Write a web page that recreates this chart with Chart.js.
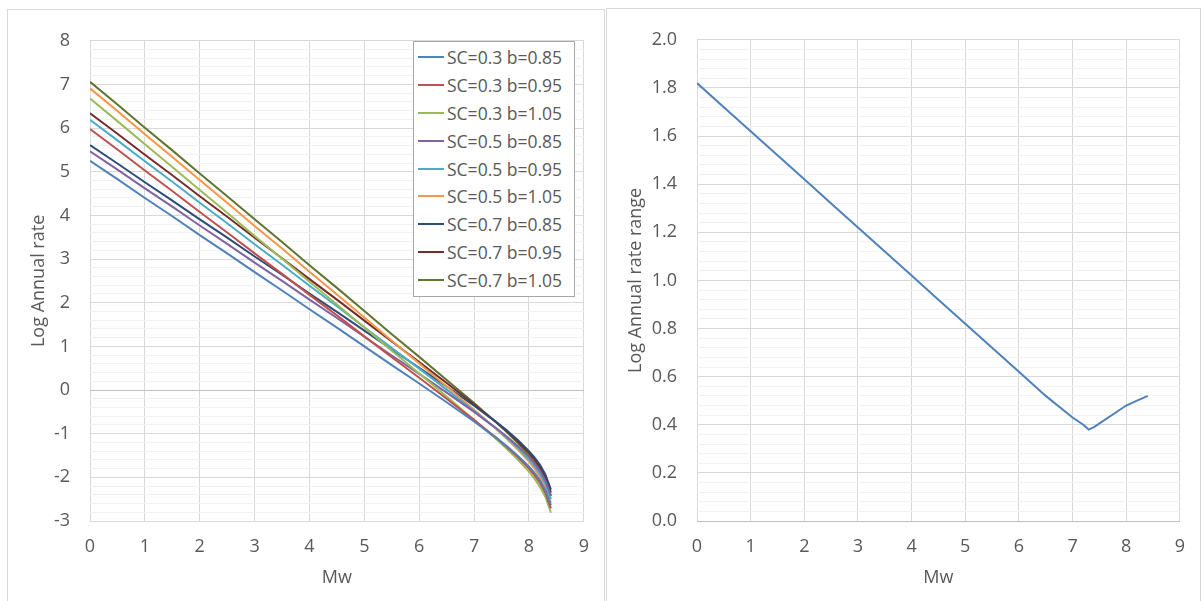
<!DOCTYPE html>
<html>
<head>
<meta charset="utf-8">
<title>Log annual rate vs Mw</title>
<script src="https://cdn.jsdelivr.net/npm/chart.js@4.4.1/dist/chart.umd.min.js"></script>
<style>
  html, body { margin: 0; padding: 0; background: #fff; }
  body {
    width: 1202px; height: 601px; position: relative; overflow: hidden;
    font-family: "Open Sans", sans-serif; color: #595959;
  }
  .panel {
    position: absolute; box-sizing: border-box;
    border: 1px solid #d9d9d9; border-bottom: none;
  }
  #left-panel { left: 7px; top: 9px; width: 598px; height: 592px; }
  #right-panel { left: 606px; top: 8px; width: 595px; height: 593px; }
  .panel canvas { position: absolute; left: 0; top: 0; }
  #legend {
    position: absolute; left: 405px; top: 31px; width: 162px; height: 256px;
    box-sizing: border-box; border: 1px solid #a6a6a6; background: #fff;
    padding: 1px 0 0 4px; font-size: 17.5px;
  }
  #legend .row { height: 27.9px; display: flex; align-items: center; white-space: nowrap; }
  #legend .swatch { width: 26px; height: 2px; margin-right: 3px; flex: none; }
</style>
</head>
<body>
<div class="panel" id="left-panel">
  <canvas id="rateChart" width="596" height="591"></canvas>
  <div id="legend"></div>
</div>
<div class="panel" id="right-panel">
  <canvas id="rangeChart" width="593" height="592"></canvas>
</div>
<script>
// magnitude steps shared by every curve
const mw = [0, 0.5, 1, 1.5, 2, 2.5, 3, 3.5, 4, 4.5, 5, 5.5, 6, 6.5, 7,
  7.2, 7.3, 7.4, 7.6, 7.8, 8, 8.1, 8.2, 8.3, 8.4];

// log annual rate per source scenario
const sc03b085 = [5.25, 4.83, 4.40, 3.98, 3.55, 3.13, 2.70, 2.28, 1.85, 1.43, 1.00, 0.57, 0.15, -0.28, -0.72,
  -0.91, -1.00, -1.09, -1.29, -1.51, -1.75, -1.90, -2.07, -2.30, -2.64];
const sc03b095 = [5.98, 5.51, 5.03, 4.56, 4.08, 3.61, 3.13, 2.66, 2.18, 1.71, 1.23, 0.75, 0.28, -0.20, -0.69,
  -0.89, -0.99, -1.09, -1.31, -1.54, -1.80, -1.95, -2.13, -2.36, -2.71];
const sc03b105 = [6.68, 6.16, 5.63, 5.11, 4.58, 4.06, 3.53, 3.01, 2.48, 1.96, 1.43, 0.90, 0.38, -0.15, -0.68,
  -0.90, -1.01, -1.12, -1.35, -1.60, -1.87, -2.03, -2.22, -2.45, -2.81];
const sc05b085 = [5.47, 5.05, 4.62, 4.20, 3.77, 3.35, 2.92, 2.50, 2.07, 1.65, 1.22, 0.79, 0.37, -0.06, -0.50,
  -0.69, -0.78, -0.87, -1.07, -1.29, -1.53, -1.68, -1.85, -2.08, -2.42];
const sc05b095 = [6.19, 5.72, 5.24, 4.77, 4.29, 3.82, 3.34, 2.87, 2.39, 1.92, 1.44, 0.96, 0.49, 0.01, -0.48,
  -0.68, -0.78, -0.88, -1.10, -1.33, -1.59, -1.74, -1.92, -2.15, -2.50];
const sc05b105 = [6.91, 6.39, 5.86, 5.34, 4.81, 4.29, 3.76, 3.24, 2.71, 2.19, 1.66, 1.13, 0.61, 0.08, -0.45,
  -0.67, -0.78, -0.89, -1.12, -1.37, -1.64, -1.80, -1.99, -2.22, -2.58];
const sc07b085 = [5.61, 5.19, 4.76, 4.34, 3.91, 3.49, 3.06, 2.64, 2.21, 1.79, 1.36, 0.93, 0.51, 0.08, -0.36,
  -0.55, -0.64, -0.73, -0.93, -1.15, -1.40, -1.54, -1.71, -1.94, -2.28];
const sc07b095 = [6.34, 5.87, 5.39, 4.92, 4.44, 3.97, 3.49, 3.02, 2.54, 2.07, 1.59, 1.11, 0.64, 0.16, -0.33,
  -0.53, -0.63, -0.73, -0.95, -1.18, -1.44, -1.59, -1.77, -2.00, -2.35];
const sc07b105 = [7.06, 6.54, 6.01, 5.49, 4.96, 4.44, 3.91, 3.39, 2.86, 2.34, 1.81, 1.28, 0.76, 0.23, -0.30,
  -0.52, -0.63, -0.74, -0.97, -1.22, -1.49, -1.65, -1.84, -2.07, -2.43];

// spread between the highest and lowest scenario
const rateRange = [1.82, 1.72, 1.62, 1.52, 1.42, 1.32, 1.22, 1.12, 1.02, 0.92, 0.82, 0.72, 0.62, 0.52, 0.43,
  0.40, 0.38, 0.39, 0.42, 0.45, 0.48, 0.49, 0.50, 0.51, 0.52];

const scenarios = [
  ['SC=0.3 b=0.85', sc03b085, '#4f81bd'],
  ['SC=0.3 b=0.95', sc03b095, '#c0504d'],
  ['SC=0.3 b=1.05', sc03b105, '#9bbb59'],
  ['SC=0.5 b=0.85', sc05b085, '#8064a2'],
  ['SC=0.5 b=0.95', sc05b095, '#4bacc6'],
  ['SC=0.5 b=1.05', sc05b105, '#f79646'],
  ['SC=0.7 b=0.85', sc07b085, '#2c4d75'],
  ['SC=0.7 b=0.95', sc07b095, '#772c2a'],
  ['SC=0.7 b=1.05', sc07b105, '#5f7530'],
];

const textColor = '#595959';
Chart.defaults.font.family = '"Open Sans", sans-serif';
Chart.defaults.font.size = 18;
Chart.defaults.color = textColor;

const toPoints = (ys) => ys.map((y, i) => ({ x: mw[i], y }));
const isStep = (v, step) => Math.abs(v / step - Math.round(v / step)) < 1e-6;

const xAxis = () => ({
  type: 'linear',
  min: 0,
  max: 9,
  ticks: { stepSize: 1, padding: 15, color: textColor },
  grid: { color: '#d9d9d9', drawTicks: false },
  border: { display: false },
  title: { display: true, text: 'Mw', color: textColor, padding: { top: 0, bottom: 12 } },
  afterFit: (scale) => { scale.height = 80; },
});

const baseOptions = (yScale) => ({
  responsive: false,
  animation: false,
  devicePixelRatio: 1,
  layout: { padding: { top: 19, right: 18, left: 0, bottom: 0 } },
  plugins: { legend: { display: false }, tooltip: { enabled: false } },
  elements: { point: { radius: 0 }, line: { borderWidth: 2, tension: 0 } },
  scales: { x: xAxis(), y: yScale },
});

const rateChart = new Chart(document.getElementById('rateChart'), {
  type: 'line',
  data: {
    datasets: scenarios.map(([label, ys, color]) => ({
      label,
      data: toPoints(ys),
      borderColor: color,
      backgroundColor: color,
      fill: false,
    })),
  },
  options: baseOptions({
    type: 'linear',
    min: -3,
    max: 8,
    ticks: {
      stepSize: 0.2,
      autoSkip: false,
      padding: 20,
      color: textColor,
      callback: (v) => (isStep(v, 1) ? String(Math.round(v)) : ''),
    },
    grid: {
      drawTicks: false,
      color: (ctx) => {
        const v = ctx.tick.value;
        if (Math.abs(v) < 1e-6) return '#bfbfbf';
        return isStep(v, 1) ? '#d9d9d9' : '#f2f2f2';
      },
    },
    border: { display: false },
    title: { display: true, text: 'Log Annual rate', color: textColor, padding: { top: 20, bottom: 0 } },
    afterFit: (scale) => { scale.width = 82; },
  }),
});

new Chart(document.getElementById('rangeChart'), {
  type: 'line',
  data: {
    datasets: [{
      label: 'Log Annual rate range',
      data: toPoints(rateRange),
      borderColor: '#4f81bd',
      backgroundColor: '#4f81bd',
      fill: false,
    }],
  },
  options: baseOptions({
    type: 'linear',
    min: 0,
    max: 2,
    ticks: {
      stepSize: 0.04,
      autoSkip: false,
      padding: 20,
      color: textColor,
      callback: (v) => (isStep(v, 0.2) ? v.toFixed(1) : ''),
    },
    grid: {
      drawTicks: false,
      color: (ctx) => {
        const v = ctx.tick.value;
        if (Math.abs(v) < 1e-6) return '#bfbfbf';
        return isStep(v, 0.2) ? '#d9d9d9' : '#f2f2f2';
      },
    },
    border: { display: false },
    title: { display: true, text: 'Log Annual rate range', color: textColor, padding: { top: 18, bottom: 0 } },
    afterFit: (scale) => { scale.width = 90; },
  }),
});

// legend box drawn over the rate chart, built from its datasets
const legendEl = document.getElementById('legend');
rateChart.data.datasets.forEach((ds) => {
  const row = document.createElement('div');
  row.className = 'row';
  const swatch = document.createElement('span');
  swatch.className = 'swatch';
  swatch.style.background = ds.borderColor;
  const text = document.createElement('span');
  text.textContent = ds.label;
  row.appendChild(swatch);
  row.appendChild(text);
  legendEl.appendChild(row);
});
</script>
</body>
</html>
